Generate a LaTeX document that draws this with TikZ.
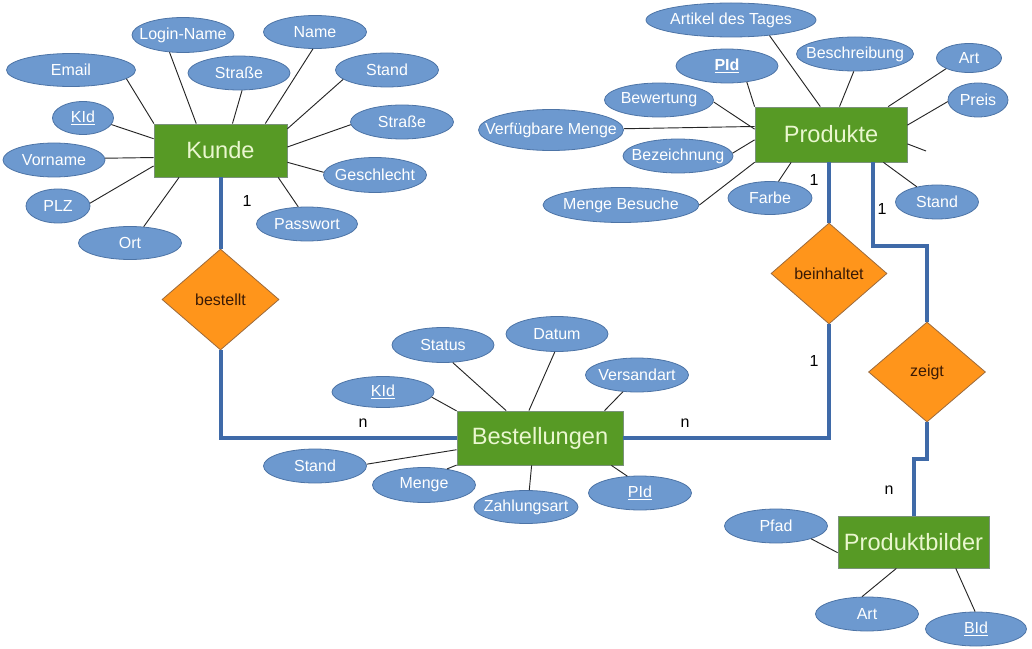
\documentclass[tikz,border=0pt]{standalone}
\usepackage{fontspec}
\setmainfont{Liberation Sans}
\usetikzlibrary{shapes.geometric}
\definecolor{ellF}{HTML}{6D99CF}
\definecolor{ellB}{HTML}{4D74A6}
\definecolor{entF}{HTML}{579A25}
\definecolor{entB}{HTML}{7A927A}
\definecolor{entT}{HTML}{EAF7CF}
\definecolor{relF}{HTML}{FF951B}
\definecolor{relB}{HTML}{9C6A3C}
\definecolor{relT}{HTML}{3A1A05}
\definecolor{connC}{HTML}{3F6AA8}
\newcommand\ellt[1]{\makebox[0pt]{#1}}
\newcommand\attrfont{\fontsize{12}{14}\selectfont}
\newcommand\entfont{\fontsize{17.7}{20}\selectfont}
\tikzset{
  attr/.style 2 args={ellipse, draw=ellB, fill=ellF, line width=0.6pt,
    minimum width=#1*0.75pt, minimum height=#2*0.75pt, inner sep=0pt,
    text=white, font=\attrfont},
  entity/.style 2 args={rectangle, draw=entB, fill=entF, line width=0.6pt,
    minimum width=#1*0.75pt, minimum height=#2*0.75pt, inner sep=0pt,
    text=entT, font=\entfont},
  rel/.style 2 args={diamond, draw=relB, fill=relF, line width=0.6pt,
    minimum width=#1*0.75pt, minimum height=#2*0.75pt, inner sep=0pt,
    text=relT, font=\attrfont},
  link/.style={draw=black!85, line width=0.7pt},
  conn/.style={draw=connC, line width=3pt},
  card/.style={font=\attrfont, text=black, inner sep=0pt}
}
\begin{document}
\begin{tikzpicture}[x=0.75pt,y=-0.75pt]
\useasboundingbox (0,0) rectangle (1032,649);

% entities
\node[entity={133}{53}] (kunde) at (220.5,150.5) {Kunde};
\node[entity={166}{54}] (bestellungen) at (540,438) {Bestellungen};
\node[entity={152}{55}] (produkte) at (831,134.5) {Produkte};
\node[entity={151}{52}] (produktbilder) at (913.5,542) {Produktbilder};

% relationships
\node[rel={117}{101}] (bestellt) at (220.5,299.5) {bestellt};
\node[rel={116}{101}] (beinhaltet) at (829,273.5) {beinhaltet};
\node[rel={117}{100}] (zeigt) at (927,372) {zeigt};

% Kunde attributes
\node[attr={129}{33}] (k_email) at (71,70) {\ellt{Email}};
\node[attr={102}{35}] (k_login) at (183,35) {\ellt{Login-Name}};
\node[attr={102}{34}] (k_str1) at (239,73) {\ellt{Straße}};
\node[attr={103}{33}] (k_name) at (315,32) {\ellt{Name}};
\node[attr={103}{34}] (k_stand) at (387,70) {\ellt{Stand}};
\node[attr={103}{34}] (k_str2) at (402,122) {\ellt{Straße}};
\node[attr={103}{35}] (k_geschl) at (375,175) {\ellt{Geschlecht}};
\node[attr={101}{34}] (k_pw) at (307,224) {\ellt{Passwort}};
\node[attr={61}{33}] (k_kid) at (83,118) {\ellt{\underline{KId}}};
\node[attr={102}{34}] (k_vorname) at (54,160) {\ellt{Vorname}};
\node[attr={64}{34}] (k_plz) at (58,206) {\ellt{PLZ}};
\node[attr={103}{33}] (k_ort) at (130,243) {\ellt{Ort}};

\draw[link] (kunde.158) -- (k_email.351.6);
\draw[link] (kunde.132.8) -- (k_login.232);
\draw[link] (kunde.66.5) -- (k_str1.280);
\draw[link] (kunde.31.4) -- (k_name.263);
\draw[link] (kunde.18.7) -- (k_stand.192.7);
\draw[link] (kunde.3.9) -- (k_str2.183.4);
\draw[link] (kunde.-10.6) -- (k_geschl.177.8);
\draw[link] (kunde.-25.5) -- (k_pw.117.9);
\draw[link] (kunde.170.2) -- (k_kid.347);
\draw[link] (kunde.186.4) -- (k_vorname.2.2);
\draw[link] (kunde.193.9) -- (k_plz.5.4);
\draw[link] (kunde.213.9) -- (k_ort.50.9);

% Produkte attributes
\node[attr={170}{34}] (p_artikel) at (731,20) {\ellt{Artikel des Tages}};
\node[attr={117}{34}] (p_beschr) at (855,54) {\ellt{Beschreibung}};
\node[attr={102}{34}] (p_pid) at (727,66) {\ellt{\textbf{\underline{PId}}}};
\node[attr={65}{29}] (p_art) at (969,58) {\ellt{Art}};
\node[attr={60}{34}] (p_preis) at (978,100) {\ellt{Preis}};
\node[attr={109}{34}] (p_bew) at (659,100) {\ellt{Bewertung}};
\node[attr={145}{41}] (p_verf) at (551,130) {\ellt{Verfügbare Menge}};
\node[attr={110}{34}] (p_bez) at (678,156) {\ellt{Bezeichnung}};
\node[attr={156}{35}] (p_mbes) at (621,205) {\ellt{Menge Besuche}};
\node[attr={84}{33}] (p_farbe) at (770,198) {\ellt{Farbe}};
\node[attr={83}{34}] (p_stand) at (937,202) {\ellt{Stand}};
\coordinate (p_stub) at (926,151);

\draw[link] (produkte.111.8) -- (p_artikel.338.7);
\draw[link] (produkte.73.8) -- (p_beschr.266.6);
\draw[link] (produkte.160) -- (p_pid.321);
\draw[link] (produkte.26.6) -- (p_art.205.5);
\draw[link] (produkte.7.9) -- (p_preis.183.8);
\draw[link] (produkte.176) -- (p_bew.-2);
\draw[link] (produkte.174.5) -- (p_verf.1.6);
\draw[link] (produkte.184.2) -- (p_bez.3.4);
\draw[link] (produkte.200) -- (p_mbes.0);
\draw[link] (produkte.215.9) -- (p_farbe.63.4);
\draw[link] (produkte.332.6) -- (p_stand.143.5);
\draw[link] (produkte.353.6) -- (p_stub);

% Bestellungen attributes
\node[attr={102}{35}] (b_status) at (443,345) {\ellt{Status}};
\node[attr={102}{35}] (b_datum) at (557,334) {\ellt{Datum}};
\node[attr={103}{34}] (b_versand) at (637,375) {\ellt{Versandart}};
\node[attr={102}{31}] (b_kid) at (383,392) {\ellt{\underline{KId}}};
\node[attr={103}{34}] (b_stand) at (315,466) {\ellt{Stand}};
\node[attr={103}{35}] (b_menge) at (424,485) {\ellt{Menge}};
\node[attr={104}{33}] (b_zahl) at (526,507) {\ellt{Zahlungsart}};
\node[attr={103}{34}] (b_pid) at (640,493) {\ellt{\underline{PId}}};

\draw[link] (bestellungen.141.5) -- (b_status.299);
\draw[link] (bestellungen.112.2) -- (b_datum.263.7);
\draw[link] (bestellungen.23.9) -- (b_versand.230.5);
\draw[link] (bestellungen.162) -- (b_kid.354.4);
\draw[link] (bestellungen.188.2) -- (b_stand.2.2);
\draw[link] (bestellungen.198) -- (b_menge.35.8);
\draw[link] (bestellungen.253.5) -- (b_zahl.79.4);
\draw[link] (bestellungen.339.4) -- (b_pid.127.4);

% Produktbilder attributes
\node[attr={103}{34}] (pb_pfad) at (776,526) {\ellt{Pfad}};
\node[attr={103}{34}] (pb_art) at (867,614) {\ellt{Art}};
\node[attr={101}{34}] (pb_bid) at (976,629) {\ellt{\underline{BId}}};

\draw[link] (produktbilder.188.3) -- (pb_pfad.340);
\draw[link] (produktbilder.237.6) -- (pb_art.106.4);
\draw[link] (produktbilder.328.5) -- (pb_bid.93.4);

% relationship connectors
\draw[conn] (kunde.south) -- (bestellt.north);
\draw[conn] (bestellt.south) |- (bestellungen.west);
\draw[conn] (bestellungen.east) -| (beinhaltet.south);
\draw[conn] (produkte.south -| beinhaltet.north) -- (beinhaltet.north);
\draw[conn] ([xshift=31.5pt]produkte.south) -- ++(0,84) -| (zeigt.north);
\draw[conn] (zeigt.south) -- ++(0,37) -| (produktbilder.north);

% cardinalities
\node[card] (c_k) at (247,201) {1};
\node[card] (c_bl) at (363,423) {n};
\node[card] (c_br) at (685,423) {n};
\node[card] (c_p1) at (814,180) {1};
\node[card] (c_p2) at (882,209) {1};
\node[card] (c_bh) at (814,361) {1};
\node[card] (c_pb) at (889,490) {n};
\end{tikzpicture}
\end{document}
